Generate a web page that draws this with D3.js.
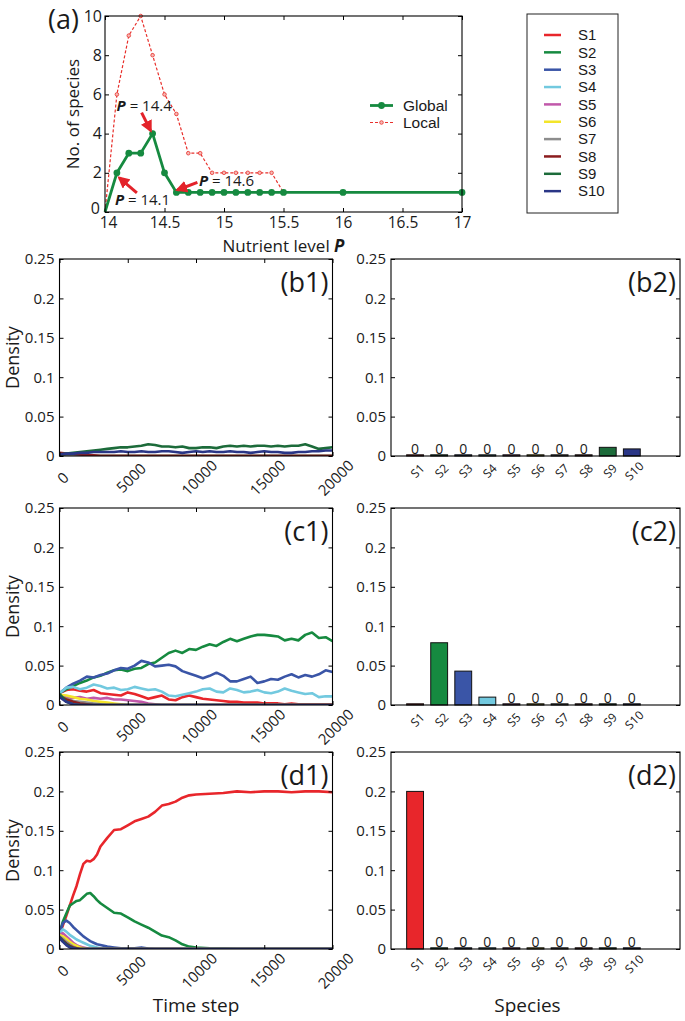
<!DOCTYPE html>
<html><head><meta charset="utf-8">
<script src="https://cdn.jsdelivr.net/npm/d3@7"></script>
<style>
body{margin:0;background:#fff;}
svg text{font-family:'Open Sans','DejaVu Sans',sans-serif;fill:#1a1a1a;}
</style>
</head><body>
<svg id="chart" width="685" height="1021"></svg>
<script>
// ---------------- DATA ----------------
const species = ["S1","S2","S3","S4","S5","S6","S7","S8","S9","S10"];
const speciesColors = ["#e8262b","#168a40","#3a55a7","#72c9df","#c158aa","#f3e52a","#8d8d8d","#8b1c1e","#1c6b3a","#2a3686"];

// Panel (a)
const globalP = [14,14.1,14.2,14.3,14.4,14.5,14.6,14.7,14.8,14.9,15,15.1,15.2,15.3,15.4,15.5,16,17];
const globalN = [0,2,3,3,4,2,1,1,1,1,1,1,1,1,1,1,1,1];
const localP  = [14,14.1,14.2,14.3,14.4,14.5,14.6,14.7,14.8,14.9,15,15.1,15.2,15.3,15.4,15.5,16,17];
const localN  = [0,6,9,10,8,6,5,3,3,2,2,2,2,2,2,1,1,1];
const pTickValues = [14,14.5,15,15.5,16,16.5,17];
const pTickLabels = ["14","14.5","15","15.5","16","16.5","17"];
const nTickValues = [0,2,4,6,8,10];
const nTickLabels = ["0","2","4","6","8","10"];
const annotP = [14.4,14.1,14.6];
const annotN = [4,2,1];
const annotText = ["14.4","14.1","14.6"];

// Time series axes
const timeTicks = [0,5000,10000,15000,20000];
const timeTickLabels = ["0","5000","10000","15000","20000"];
const densityTicks = [0,0.05,0.1,0.15,0.2,0.25];
const densityTickLabels = ["0","0.05","0.1","0.15","0.2","0.25"];

const timeGridB = [0,500,1000,1500,2000,2500,3000,3500,4000,4500,5000,5500,6000,6500,7000,7500,8000,8500,9000,9500,10000,10500,11000,11500,12000,12500,13000,13500,14000,14500,15000,15500,16000,16500,17000,17500,18000,18500,19000,19500,20000];
const timeGridC = timeGridB;
const timeGridD = [0,250,500,750,1000,1250,1500,1750,2000,2250,2500,2750,3000,3500,4000,4500,5000,5500,6000,6500,7000,7500,8000,8500,9000,9500,10000,11000,12000,13000,14000,15000,16000,17000,18000,19000,20000];

// (b1)
const b1S1 = [0.003,0.002,0.001,0,0,0,0,0,0,0, 0,0,0,0,0,0,0,0,0,0, 0,0,0,0,0,0,0,0,0,0, 0,0,0,0,0,0,0,0,0,0, 0];
const b1S2 = [0.002,0.001,0,0,0,0,0,0,0,0, 0,0,0,0,0,0,0,0,0,0, 0,0,0,0,0,0,0,0,0,0, 0,0,0,0,0,0,0,0,0,0, 0];
const b1S3 = [0.002,0.001,0,0,0,0,0,0,0,0, 0,0,0,0,0,0,0,0,0,0, 0,0,0,0,0,0,0,0,0,0, 0,0,0,0,0,0,0,0,0,0, 0];
const b1S4 = [0.002,0.001,0,0,0,0,0,0,0,0, 0,0,0,0,0,0,0,0,0,0, 0,0,0,0,0,0,0,0,0,0, 0,0,0,0,0,0,0,0,0,0, 0];
const b1S5 = [0.002,0.001,0,0,0,0,0,0,0,0, 0,0,0,0,0,0,0,0,0,0, 0,0,0,0,0,0,0,0,0,0, 0,0,0,0,0,0,0,0,0,0, 0];
const b1S6 = [0.002,0.001,0,0,0,0,0,0,0,0, 0,0,0,0,0,0,0,0,0,0, 0,0,0,0,0,0,0,0,0,0, 0,0,0,0,0,0,0,0,0,0, 0];
const b1S7 = [0.002,0.001,0,0,0,0,0,0,0,0, 0,0,0,0,0,0,0,0,0,0, 0,0,0,0,0,0,0,0,0,0, 0,0,0,0,0,0,0,0,0,0, 0];
const b1S8 = [0.004,0.003,0.003,0.002,0.001,0.001,0,0,0,0, 0,0,0,0,0,0,0,0,0,0, 0,0,0,0,0,0,0,0,0,0, 0,0,0,0,0,0,0,0,0,0, 0];
const b1S9 = [0.002,0.003,0.004,0.005,0.006,0.007,0.008,0.009,0.010,0.011,
              0.011,0.012,0.013,0.015,0.014,0.012,0.012,0.011,0.012,0.010,
              0.010,0.011,0.011,0.010,0.012,0.013,0.012,0.013,0.012,0.013,
              0.013,0.012,0.013,0.012,0.013,0.013,0.015,0.012,0.009,0.010,
              0.011];
const b1S10 = [0.002,0.003,0.003,0.004,0.004,0.005,0.005,0.005,0.005,0.006,
               0.005,0.005,0.006,0.005,0.005,0.006,0.006,0.005,0.004,0.005,
               0.006,0.005,0.006,0.005,0.005,0.006,0.005,0.005,0.004,0.005,
               0.006,0.005,0.005,0.004,0.004,0.005,0.005,0.006,0.006,0.007,
               0.007];

// (c1)
const c1S1 = [0.015,0.019,0.020,0.018,0.017,0.019,0.015,0.014,0.013,0.012,
              0.016,0.014,0.011,0.008,0.010,0.012,0.007,0.006,0.010,0.012,
              0.010,0.008,0.007,0.006,0.005,0.004,0.004,0.003,0.003,0.003,
              0.002,0.002,0.002,0.001,0.002,0.001,0.001,0.001,0.001,0.001,
              0.001];
const c1S2 = [0.015,0.020,0.024,0.028,0.031,0.035,0.037,0.041,0.044,0.045,
              0.043,0.046,0.047,0.052,0.054,0.060,0.066,0.069,0.066,0.071,
              0.070,0.074,0.077,0.075,0.080,0.084,0.081,0.084,0.087,0.089,
              0.089,0.088,0.087,0.082,0.084,0.082,0.089,0.092,0.085,0.086,
              0.081];
const c1S3 = [0.015,0.022,0.027,0.031,0.036,0.035,0.038,0.040,0.044,0.047,
              0.046,0.050,0.056,0.054,0.049,0.050,0.051,0.049,0.043,0.040,
              0.037,0.034,0.037,0.041,0.037,0.030,0.030,0.033,0.036,0.028,
              0.030,0.033,0.032,0.036,0.039,0.035,0.038,0.036,0.039,0.044,
              0.042];
const c1S4 = [0.015,0.022,0.023,0.020,0.022,0.026,0.024,0.021,0.022,0.019,
              0.020,0.023,0.021,0.019,0.020,0.017,0.012,0.011,0.013,0.015,
              0.017,0.020,0.021,0.017,0.016,0.021,0.019,0.016,0.017,0.019,
              0.016,0.015,0.017,0.021,0.018,0.016,0.014,0.015,0.010,0.011,
              0.011];
const c1S5 = [0.012,0.010,0.009,0.010,0.008,0.009,0.008,0.009,0.007,0.007,
              0.006,0.005,0.004,0.002,0.001,0,0,0,0,0, 0,0,0,0,0,0,0,0,0,0, 0,0,0,0,0,0,0,0,0,0, 0];
const c1S6 = [0.013,0.012,0.010,0.008,0.007,0.005,0.004,0.003,0.002,0.001, 0,0,0,0,0,0,0,0,0,0, 0,0,0,0,0,0,0,0,0,0, 0,0,0,0,0,0,0,0,0,0, 0];
const c1S7 = [0.012,0.008,0.005,0.004,0.003,0.002,0.001,0,0,0, 0,0,0,0,0,0,0,0,0,0, 0,0,0,0,0,0,0,0,0,0, 0,0,0,0,0,0,0,0,0,0, 0];
const c1S8 = [0.011,0.007,0.004,0.002,0.001,0,0,0,0,0, 0,0,0,0,0,0,0,0,0,0, 0,0,0,0,0,0,0,0,0,0, 0,0,0,0,0,0,0,0,0,0, 0];
const c1S9 = [0.014,0.004,0.001,0,0,0,0,0,0,0, 0,0,0,0,0,0,0,0,0,0, 0,0,0,0,0,0,0,0,0,0, 0,0,0,0,0,0,0,0,0,0, 0];
const c1S10 = [0.010,0.004,0.001,0,0,0,0,0,0,0, 0,0,0,0,0,0,0,0,0,0, 0,0,0,0,0,0,0,0,0,0, 0,0,0,0,0,0,0,0,0,0, 0];

// (d1)
const d1S1 = [0.020,0.030,0.042,0.055,0.068,0.080,0.095,0.108,0.112,0.111,0.114,0.120,0.130,
              0.141,0.151,0.152,0.157,0.162,0.165,0.168,0.174,0.182,0.184,0.187,0.192,0.195,0.196,
              0.197,0.198,0.200,0.199,0.200,0.200,0.199,0.200,0.200,0.199];
const d1S2 = [0.020,0.035,0.045,0.055,0.058,0.061,0.062,0.066,0.070,0.071,0.067,0.062,0.058,
              0.052,0.046,0.045,0.040,0.035,0.031,0.027,0.022,0.017,0.015,0.011,0.006,0.003,0.002,
              0.001,0.0005,0,0,0,0,0,0,0,0];
const d1S3 = [0.020,0.033,0.036,0.033,0.028,0.024,0.020,0.016,0.013,0.010,0.008,0.006,0.005,
              0.003,0.002,0.001,0.001,0.001,0.002,0.0005,0,0,0,0,0,0,0,
              0,0,0,0,0,0,0,0,0,0];
const d1S4 = [0.020,0.025,0.022,0.018,0.015,0.012,0.010,0.008,0.006,0.004,0.003,0.002,0.001,
              0,0,0,0,0,0,0,0,0,0,0,0,0,0, 0,0,0,0,0,0,0,0,0,0];
const d1S5 = [0.018,0.020,0.016,0.012,0.008,0.005,0.003,0.002,0.001,0,0,0,0,
              0,0,0,0,0,0,0,0,0,0,0,0,0,0, 0,0,0,0,0,0,0,0,0,0];
const d1S6 = [0.018,0.016,0.013,0.009,0.006,0.004,0.002,0.001,0,0,0,0,0,
              0,0,0,0,0,0,0,0,0,0,0,0,0,0, 0,0,0,0,0,0,0,0,0,0];
const d1S7 = [0.016,0.013,0.009,0.006,0.003,0.001,0,0,0,0,0,0,0,
              0,0,0,0,0,0,0,0,0,0,0,0,0,0, 0,0,0,0,0,0,0,0,0,0];
const d1S8 = [0.015,0.011,0.007,0.004,0.002,0.001,0,0,0,0,0,0,0,
              0,0,0,0,0,0,0,0,0,0,0,0,0,0, 0,0,0,0,0,0,0,0,0,0];
const d1S9 = [0.015,0.010,0.006,0.003,0.001,0,0,0,0,0,0,0,0,
              0,0,0,0,0,0,0,0,0,0,0,0,0,0, 0,0,0,0,0,0,0,0,0,0];
const d1S10 = [0.014,0.009,0.005,0.002,0.001,0,0,0,0,0,0,0,0,
               0,0,0,0,0,0,0,0,0,0,0,0,0,0, 0,0,0,0,0,0,0,0,0,0];

// Final densities (bar panels)
const b2Values = [0,0,0,0,0,0,0,0,0.011,0.009];
const c2Values = [0.0013,0.079,0.043,0.010,0,0,0,0,0,0];
const d2Values = [0.200,0,0,0,0,0,0,0,0,0];

// ---------------- DRAWING ----------------
const svg = d3.select("#chart");
const TICK_COLOR = "#000";
const ALT_FONT = "'Liberation Sans',Arial,sans-serif";

function styleAxis(sel, fontSize) {
  sel.select(".domain").remove();
  sel.selectAll(".tick line").attr("stroke", TICK_COLOR).attr("stroke-width", 1);
  sel.selectAll(".tick text").attr("font-size", fontSize).attr("fill", "#1a1a1a");
}
function frame(g, w, h) {
  g.append("rect").attr("x",0).attr("y",0).attr("width",w).attr("height",h)
    .attr("fill","none").attr("stroke","#000").attr("stroke-width",1.1);
}
let clipId = 0;

// ---- Panel (a) ----
(function(){
  const box = {x:105, y:16, w:357, h:196};
  const g = svg.append("g").attr("transform",`translate(${box.x},${box.y})`);
  const x = d3.scaleLinear().domain([14,17]).range([0,box.w]);
  const y = d3.scaleLinear().domain([0,10]).range([box.h,0]);

  const ax = g.append("g").attr("transform",`translate(0,${box.h})`)
    .call(d3.axisBottom(x).tickValues(pTickValues).tickFormat((d,i)=>pTickLabels[i]).tickSize(-4).tickPadding(5));
  styleAxis(ax, 15.5);
  ax.selectAll(".tick text").filter((d,i)=>i===0).attr("dx", 3);
  const ay = g.append("g")
    .call(d3.axisLeft(y).tickValues(nTickValues).tickFormat((d,i)=>nTickLabels[i]).tickSize(-4).tickPadding(3));
  styleAxis(ay, 16);
  ay.selectAll(".tick text").filter((d,i)=>i===0).attr("dy", "0.1em").attr("dx", -2);
  const at = g.append("g").call(d3.axisTop(x).tickValues(pTickValues).tickFormat("").tickSize(-4));
  styleAxis(at, 0);
  const ar = g.append("g").attr("transform",`translate(${box.w},0)`)
    .call(d3.axisRight(y).tickValues(nTickValues).tickFormat("").tickSize(-4));
  styleAxis(ar, 0);

  const localPts = localP.map((p,i)=>[p, localN[i]]);
  const globalPts = globalP.map((p,i)=>[p, globalN[i]]);
  const line = d3.line().x(d=>x(d[0])).y(d=>y(d[1]));

  g.append("path").datum(localPts).attr("d",line).attr("fill","none")
    .attr("stroke","#e8302c").attr("stroke-width",1.2).attr("stroke-dasharray","3,2");
  g.selectAll(".lm").data(localPts.slice(1)).enter().append("circle")
    .attr("cx",d=>x(d[0])).attr("cy",d=>y(d[1])).attr("r",1.8)
    .attr("fill","#f6b9b4").attr("stroke","#e8302c").attr("stroke-width",0.8);

  g.append("path").datum(globalPts).attr("d",line).attr("fill","none")
    .attr("stroke","#168a40").attr("stroke-width",2.8);
  g.selectAll(".gm").data(globalPts.slice(1)).enter().append("circle")
    .attr("cx",d=>x(d[0])).attr("cy",d=>y(d[1])).attr("r",3.4)
    .attr("fill","#168a40");

  frame(g, box.w, box.h);

  // arrows & annotations
  const defs = svg.append("defs");
  defs.append("marker").attr("id","arrowHead").attr("viewBox","0 0 10 10")
    .attr("refX",8).attr("refY",5).attr("markerWidth",4).attr("markerHeight",4)
    .attr("orient","auto").append("path").attr("d","M0,0 L10,5 L0,10 z").attr("fill","#e3232a");
  const tails = [[-11,-21],[20,20],[21,-10]];
  const tips = [[-2,-3],[2.4,5],[1,-2.4]];
  const textOff = [[-36,-22.5],[-2,32],[22.5,-6.5]];
  annotP.forEach((p,i)=>{
    const tx = x(p), ty = y(annotN[i]);
    g.append("line").attr("x1",tx+tails[i][0]).attr("y1",ty+tails[i][1])
      .attr("x2",tx+tips[i][0]).attr("y2",ty+tips[i][1])
      .attr("stroke","#e3232a").attr("stroke-width",3).attr("marker-end","url(#arrowHead)");
    const t = g.append("text").attr("x",tx+textOff[i][0]).attr("y",ty+textOff[i][1]).attr("font-size",15);
    t.append("tspan").attr("font-weight","bold").attr("font-style","italic").text("P");
    t.append("tspan").text(" = " + annotText[i]);
  });

  // inner legend
  const lg = g.append("g");
  const ly1 = 89.5, ly2 = 106.5, lx0 = 265, lx1 = 288;
  lg.append("line").attr("x1",lx0).attr("x2",lx1).attr("y1",ly1).attr("y2",ly1).attr("stroke","#168a40").attr("stroke-width",2.8);
  lg.append("circle").attr("cx",(lx0+lx1)/2).attr("cy",ly1).attr("r",3.4).attr("fill","#168a40");
  lg.append("text").attr("x",298).attr("y",ly1).attr("dy","0.35em").attr("font-size",15.5)
    .style("font-family",ALT_FONT).text("Global");
  lg.append("line").attr("x1",lx0).attr("x2",lx1).attr("y1",ly2).attr("y2",ly2).attr("stroke","#e8302c").attr("stroke-width",1.2).attr("stroke-dasharray","3,2");
  lg.append("circle").attr("cx",(lx0+lx1)/2).attr("cy",ly2).attr("r",1.8).attr("fill","#f6b9b4").attr("stroke","#e8302c").attr("stroke-width",0.8);
  lg.append("text").attr("x",298).attr("y",ly2).attr("dy","0.35em").attr("font-size",15.5)
    .style("font-family",ALT_FONT).text("Local");

  // labels
  svg.append("text").attr("x",48).attr("y",29).attr("font-size",27).text("(a)");
  svg.append("text").attr("transform",`translate(79,${box.y+box.h/2}) rotate(-90)`)
    .attr("text-anchor","middle").attr("font-size",17).text("No. of species");
  const xl = svg.append("text").attr("x",box.x + box.w/2).attr("y",251.5).attr("text-anchor","middle").attr("font-size",17);
  xl.append("tspan").text("Nutrient level ");
  xl.append("tspan").attr("font-weight","bold").attr("font-style","italic").text("P");
})();

// ---- Species legend ----
(function(){
  const g = svg.append("g");
  g.append("rect").attr("x",527).attr("y",14).attr("width",91).attr("height",199)
    .attr("fill","none").attr("stroke","#222").attr("stroke-width",1);
  species.forEach((s,i)=>{
    const yy = 35 + i*17.35;
    g.append("line").attr("x1",544).attr("x2",561).attr("y1",yy).attr("y2",yy)
      .attr("stroke",speciesColors[i]).attr("stroke-width",2.5);
    g.append("text").attr("x",578).attr("y",yy).attr("dy","0.35em").attr("font-size",15)
      .style("font-family",ALT_FONT).text(s);
  });
})();

// ---- Time series panels ----
function timePanel(box, time, series, label, showTitle) {
  const g = svg.append("g").attr("transform",`translate(${box.x},${box.y})`);
  const x = d3.scaleLinear().domain([0,20000]).range([0,box.w]);
  const y = d3.scaleLinear().domain([0,0.25]).range([box.h,0]);
  const id = "clip" + (clipId++);
  g.append("clipPath").attr("id",id).append("rect").attr("width",box.w).attr("height",box.h);
  const lg = g.append("g").attr("clip-path",`url(#${id})`);
  const line = d3.line().x((d,i)=>x(time[i])).y(d=>y(d));
  series.forEach((vals,i)=>{
    lg.append("path").datum(vals).attr("d",line).attr("fill","none")
      .attr("stroke",speciesColors[i]).attr("stroke-width",2.6).attr("stroke-linejoin","round");
  });
  const ay = g.append("g").call(d3.axisLeft(y).tickValues(densityTicks).tickFormat((d,i)=>densityTickLabels[i]).tickSize(-4).tickPadding(5));
  styleAxis(ay, 15);
  const ar = g.append("g").attr("transform",`translate(${box.w},0)`).call(d3.axisRight(y).tickValues(densityTicks).tickFormat("").tickSize(-4));
  styleAxis(ar, 0);
  const at = g.append("g").call(d3.axisTop(x).tickValues(timeTicks).tickFormat("").tickSize(-4));
  styleAxis(at, 0);
  const ax = g.append("g").attr("transform",`translate(0,${box.h})`)
    .call(d3.axisBottom(x).tickValues(timeTicks).tickFormat((d,i)=>timeTickLabels[i]).tickSize(-4));
  styleAxis(ax, 15);
  ax.selectAll(".tick text").attr("x",0).attr("y",0).attr("dy","0.35em").attr("text-anchor","middle")
    .attr("transform","translate(3,22) rotate(-45)");
  frame(g, box.w, box.h);
  g.append("text").attr("x",box.w-4).attr("y",33).attr("text-anchor","end").attr("font-size",27).text(label);
  svg.append("text").attr("transform",`translate(18.5,${box.y+box.h/2}) rotate(-90)`)
    .attr("text-anchor","middle").attr("font-size",18).text("Density");
  if (showTitle) {
    svg.append("text").attr("x",box.x+box.w/2).attr("y",box.y+box.h+63).attr("text-anchor","middle")
      .attr("font-size",19).text("Time step");
  }
}

function barPanel(box, values, label, showTitle) {
  const g = svg.append("g").attr("transform",`translate(${box.x},${box.y})`);
  const x = d3.scaleLinear().domain([0,12]).range([0,box.w]);
  const y = d3.scaleLinear().domain([0,0.25]).range([box.h,0]);
  const bw = x(0.7) - x(0);
  values.forEach((v,i)=>{
    const cx = x(i+1);
    const top = y(v);
    const h = Math.max(1.2, y(0)-top);
    g.append("rect").attr("x",cx-bw/2).attr("y",y(0)-h).attr("width",bw).attr("height",h)
      .attr("fill",speciesColors[i]).attr("stroke","#111").attr("stroke-width",1);
    if (v === 0) {
      g.append("text").attr("x",cx).attr("y",y(0)-2).attr("text-anchor","middle").attr("font-size",14).text("0");
    }
  });
  const ay = g.append("g").call(d3.axisLeft(y).tickValues(densityTicks).tickFormat((d,i)=>densityTickLabels[i]).tickSize(-4).tickPadding(5));
  styleAxis(ay, 15);
  const ar = g.append("g").attr("transform",`translate(${box.w},0)`).call(d3.axisRight(y).tickValues(densityTicks).tickFormat("").tickSize(-4));
  styleAxis(ar, 0);
  const ax = g.append("g").attr("transform",`translate(0,${box.h})`)
    .call(d3.axisBottom(x).tickValues(d3.range(1, species.length+1)).tickFormat((d,i)=>species[i]).tickSize(0));
  styleAxis(ax, 12);
  ax.selectAll(".tick text").attr("x",0).attr("y",0).attr("dy","0.35em").attr("text-anchor","middle")
    .attr("transform","translate(2,15) rotate(-45)");
  frame(g, box.w, box.h);
  g.append("text").attr("x",box.w-4).attr("y",33).attr("text-anchor","end").attr("font-size",27).text(label);
  if (showTitle) {
    svg.append("text").attr("x",box.x+box.w/2 - 8).attr("y",box.y+box.h+63).attr("text-anchor","middle")
      .attr("font-size",19).text("Species");
  }
}

const leftX = 59.5, leftW = 273, rightX = 391, rightW = 289, panelH = 197;
timePanel({x:leftX,y:259,w:leftW,h:panelH}, timeGridB,
  [b1S1,b1S2,b1S3,b1S4,b1S5,b1S6,b1S7,b1S8,b1S9,b1S10], "(b1)", false);
timePanel({x:leftX,y:508,w:leftW,h:panelH}, timeGridC,
  [c1S1,c1S2,c1S3,c1S4,c1S5,c1S6,c1S7,c1S8,c1S9,c1S10], "(c1)", false);
timePanel({x:leftX,y:752,w:leftW,h:panelH}, timeGridD,
  [d1S1,d1S2,d1S3,d1S4,d1S5,d1S6,d1S7,d1S8,d1S9,d1S10], "(d1)", true);
barPanel({x:rightX,y:259,w:rightW,h:panelH}, b2Values, "(b2)", false);
barPanel({x:rightX,y:508,w:rightW,h:panelH}, c2Values, "(c2)", false);
barPanel({x:rightX,y:752,w:rightW,h:panelH}, d2Values, "(d2)", true);
</script>
</body></html>
